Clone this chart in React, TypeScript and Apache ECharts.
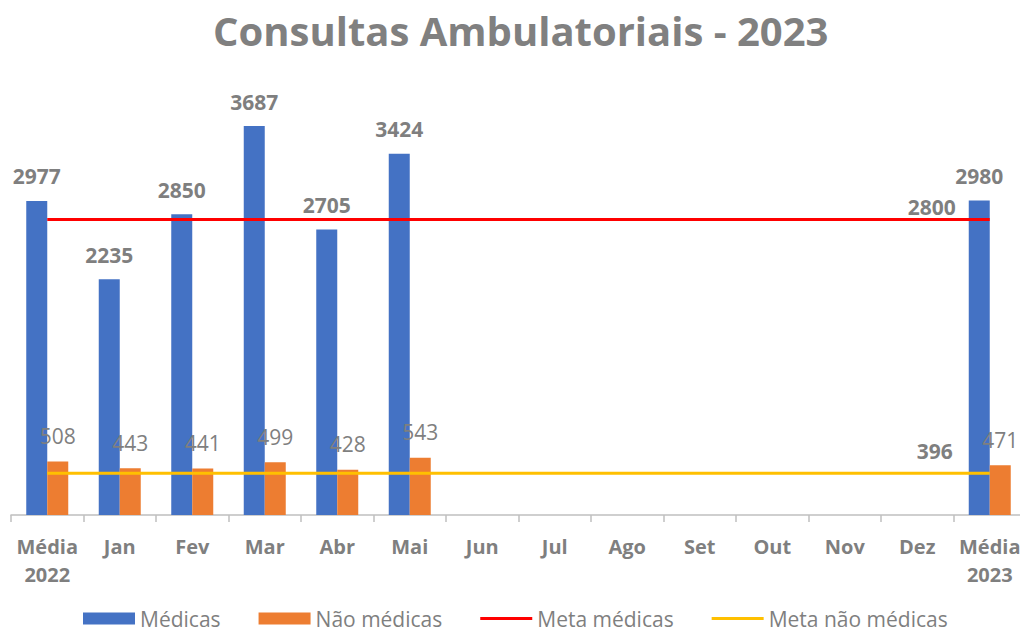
import React, { useEffect, useRef } from "react";
import * as echarts from "echarts";

const categories = ["Média\n2022", "Jan", "Fev", "Mar", "Abr", "Mai", "Jun", "Jul", "Ago", "Set", "Out", "Nov", "Dez", "Média\n2023"];
const medicas: (number | null)[] = [2977, 2235, 2850, 3687, 2705, 3424, null, null, null, null, null, null, null, 2980];
const naoMedicas: (number | null)[] = [508, 443, 441, 499, 428, 543, null, null, null, null, null, null, null, 471];
const metaMedicas = 2800;
const metaNaoMedicas = 396;

const FONT = "'Open Sans', sans-serif";
const GRAY = "#7f7f7f";

export default function App() {
  const ref = useRef<HTMLDivElement>(null);
  useEffect(() => {
    if (!ref.current) return;
    const chart = echarts.init(ref.current, null, { renderer: "svg" });
    const linePath = "path://M0,0 L52,0 L52,3 L0,3 Z";
    const endLabelStyle = { fontFamily: FONT, fontSize: 21, fontWeight: "bold", color: GRAY };
    chart.setOption({
      animation: false,
      backgroundColor: "#ffffff",
      title: {
        text: "Consultas Ambulatoriais - 2023",
        left: 208,
        top: 5,
        textStyle: { fontFamily: FONT, fontSize: 40, fontWeight: "bold", color: "#808080" },
      },
      grid: { left: 11, right: -6, top: 93, bottom: 120, outerBoundsMode: "none", containLabel: false },
      legend: {
        top: 603,
        left: 78,
        padding: 5,
        itemWidth: 52,
        itemHeight: 12,
        itemGap: 38,
        textStyle: { fontFamily: FONT, fontSize: 21, color: GRAY },
        data: [
          { name: "Médicas", icon: "rect" },
          { name: "Não médicas", icon: "rect" },
          { name: "Meta médicas", icon: linePath, itemStyle: { color: "#ff0000" } },
          { name: "Meta não médicas", icon: linePath, itemStyle: { color: "#ffc000" } },
        ],
      },
      xAxis: {
        type: "category",
        data: categories,
        boundaryGap: true,
        axisLine: { show: true, lineStyle: { color: "#bfbfbf", width: 1.5 } },
        axisTick: { show: true, length: 7, alignWithLabel: false, lineStyle: { color: "#bfbfbf", width: 1.5 } },
        axisLabel: {
          interval: 0,
          margin: 17,
          fontFamily: FONT,
          fontSize: 20,
          fontWeight: "bold",
          color: GRAY,
          lineHeight: 28,
        },
      },
      yAxis: {
        type: "value",
        min: 0,
        max: 4000,
        show: false,
        splitLine: { show: false },
      },
      series: [
        {
          name: "Médicas",
          type: "bar",
          data: medicas,
          barWidth: 21,
          barGap: "0%",
          itemStyle: { color: "#4472c4" },
          z: 2,
          label: {
            show: true,
            position: "top",
            distance: 14,
            fontFamily: FONT,
            fontSize: 21,
            fontWeight: "bold",
            color: GRAY,
          },
        },
        {
          name: "Não médicas",
          type: "bar",
          data: naoMedicas,
          barWidth: 21,
          barGap: "0%",
          itemStyle: { color: "#ed7d31" },
          z: 3,
          label: {
            show: true,
            position: "top",
            distance: 15,
            fontFamily: FONT,
            fontSize: 21,
            fontWeight: "normal",
            color: GRAY,
          },
        },
        {
          name: "Meta médicas",
          type: "line",
          data: categories.map(() => metaMedicas),
          symbol: "none",
          z: 4,
          lineStyle: { color: "#ff0000", width: 3 },
          itemStyle: { color: "#ff0000" },
          endLabel: { show: true, distance: 5, offset: [-87, -13], formatter: "{c}", ...endLabelStyle },
        },
        {
          name: "Meta não médicas",
          type: "line",
          data: categories.map(() => metaNaoMedicas),
          symbol: "none",
          z: 4,
          lineStyle: { color: "#ffc000", width: 3 },
          itemStyle: { color: "#ffc000" },
          endLabel: { show: true, distance: 5, offset: [-78, -22], formatter: "{c}", ...endLabelStyle },
        },
      ],
    });
    return () => chart.dispose();
  }, []);
  return (
    <div
      ref={ref}
      style={{ position: "absolute", left: 0, top: 0, width: 1020, height: 635, overflow: "hidden" }}
    />
  );
}
